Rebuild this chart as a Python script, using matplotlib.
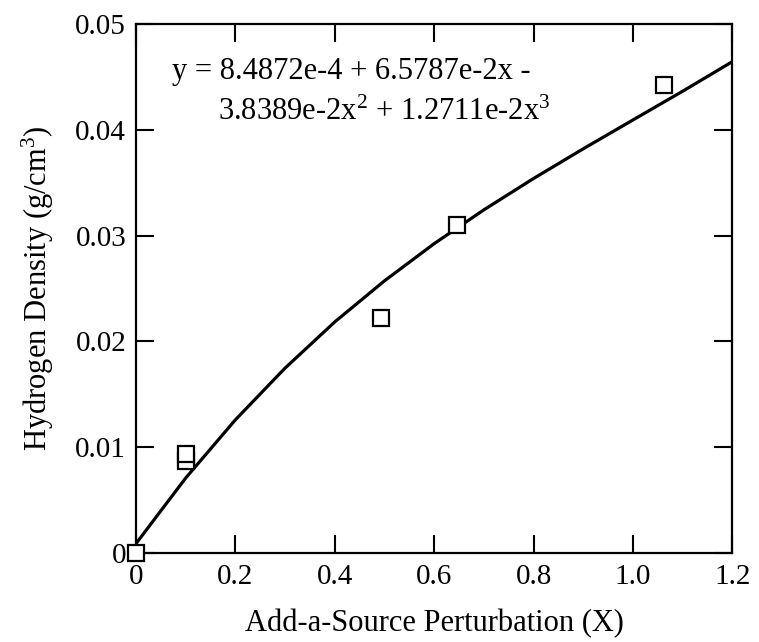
import matplotlib
matplotlib.use('Agg')
import matplotlib.pyplot as plt

# Измеренные точки
x_points = [0.0, 0.1, 0.1, 0.494, 0.645, 1.063]
y_points = [0.0, 0.0087, 0.0093, 0.0222, 0.0310, 0.0443]

# Кривая аппроксимации
x_curve = [0.0, 0.1, 0.2, 0.3, 0.4, 0.5, 0.6, 0.7, 0.8, 0.9, 1.0, 1.1, 1.2]
y_curve = [0.00085, 0.00706, 0.01257, 0.01747, 0.02184, 0.02573, 0.02925,
           0.03245, 0.03542, 0.03823, 0.04096, 0.04368, 0.04648]

x_ticks = [0, 0.2, 0.4, 0.6, 0.8, 1.0, 1.2]
x_tick_labels = ['0', '0.2', '0.4', '0.6', '0.8', '1.0', '1.2']
y_ticks = [0, 0.01, 0.02, 0.03, 0.04, 0.05]
y_tick_labels = ['0', '0.01', '0.02', '0.03', '0.04', '0.05']

eq_line1 = 'y = 8.4872e-4 + 6.5787e-2x -'
eq_line2 = r'3.8389e-2x$^2$ + 1.2711e-2x$^3$'

plt.rcParams['font.family'] = ['Liberation Serif', 'DejaVu Serif']
plt.rcParams['mathtext.fontset'] = 'custom'
plt.rcParams['mathtext.rm'] = 'Liberation Serif'
plt.rcParams['mathtext.it'] = 'Liberation Serif'

fig = plt.figure(figsize=(7.59, 6.42), dpi=100)
ax = fig.add_axes([0.179, 0.139, 0.786, 0.823])

ax.plot(x_curve, y_curve, color='black', linewidth=2.3)
ax.plot(x_points, y_points, linestyle='none', marker='s', markersize=11,
        markerfacecolor='white', markeredgecolor='black', markeredgewidth=1.6,
        clip_on=False, zorder=3)

ax.set_xlim(0, 1.2)
ax.set_ylim(0, 0.05)
ax.set_xticks(x_ticks)
ax.set_xticklabels(x_tick_labels)
ax.set_yticks(y_ticks)
ax.set_yticklabels(y_tick_labels)
ax.tick_params(direction='in', length=13, width=1.5, labelsize=21,
               top=True, right=True)
ax.tick_params(axis='x', pad=8)
ax.tick_params(axis='y', pad=7)
for side in ax.spines.values():
    side.set_linewidth(1.6)

ax.set_xlabel('Add-a-Source Perturbation (X)', fontsize=22, labelpad=14)
ax.set_ylabel(r'Hydrogen Density (g/cm$^3$)', fontsize=22, labelpad=14)

ax.text(0.072, 0.0455, eq_line1, fontsize=22, va='center', ha='left')
ax.text(0.165, 0.0417, eq_line2, fontsize=22, va='center', ha='left')

fig.savefig('out.png', dpi=100)
